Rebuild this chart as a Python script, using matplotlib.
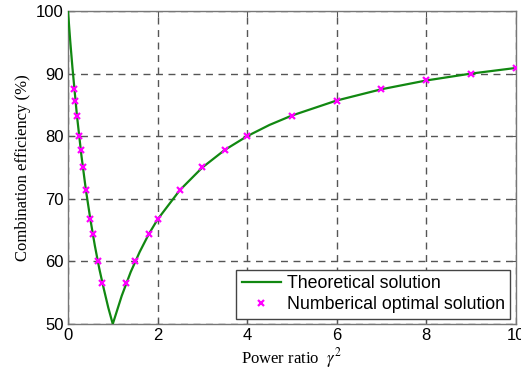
import matplotlib
matplotlib.use("Agg")
import matplotlib.pyplot as plt

# Theoretical curve
theory_x = [0, 0.05, 0.1, 0.2, 0.3, 0.4, 0.5, 0.6, 0.7, 0.8, 0.9, 1.0,
            1.2, 1.4, 1.6, 1.8, 2.0, 2.5, 3.0, 3.5, 4.0, 4.5, 5.0, 6.0,
            7.0, 8.0, 9.0, 10.0]
theory_y = [100, 95.2, 90.9, 83.3, 76.9, 71.4, 66.7, 62.5, 58.8, 55.6, 52.6, 50.0,
            54.5, 58.3, 61.5, 64.3, 66.7, 71.4, 75.0, 77.8, 80.0, 81.8, 83.3, 85.7,
            87.5, 88.9, 90.0, 90.9]

# Numerical optimal solution markers
num_x = [0.143, 0.167, 0.2, 0.25, 0.286, 0.333, 0.4, 0.5, 0.556, 0.667, 0.77,
         1.3, 1.5, 1.8, 2.0, 2.5, 3.0, 3.5, 4.0, 5.0, 6.0, 7.0, 8.0, 9.0, 10.0]
num_y = [87.5, 85.7, 83.3, 80.0, 77.8, 75.0, 71.4, 66.7, 64.3, 60.0, 56.5,
         56.5, 60.0, 64.3, 66.7, 71.4, 75.0, 77.8, 80.0, 83.3, 85.7, 87.5, 88.9, 90.0, 90.9]

xticks = [0, 2, 4, 6, 8, 10]
yticks = [50, 60, 70, 80, 90, 100]

plt.rcParams['font.family'] = ['Liberation Sans', 'DejaVu Sans']
plt.rcParams['mathtext.fontset'] = 'stix'

fig = plt.figure(figsize=(5.21, 3.78), dpi=100)
ax = fig.add_axes([0.1305, 0.1429, 0.8595, 0.828])

ax.plot(theory_x, theory_y, color='#118811', lw=1.6, label='Theoretical solution', zorder=3)
ax.plot(num_x, num_y, linestyle='none', marker='x', color='#ff00ff', ms=5, mew=1.6,
        label='Numberical optimal solution', zorder=4)

ax.set_xlim(0, 10)
ax.set_ylim(50, 100)
ax.set_xticks(xticks)
ax.set_yticks(yticks)
ax.tick_params(direction='in', top=True, right=True, labelsize=12, length=4,
               color='#555555', pad=3)
for s in ax.spines.values():
    s.set_color('#777777')
    s.set_linewidth(1.0)

ax.grid(True, linestyle=(0, (5, 4)), color='#555555', lw=1.0)

ax.set_xlabel(r'Power ratio  $\gamma^2$', family=['Liberation Serif', 'DejaVu Serif'],
              fontsize=12, labelpad=2)
ax.set_ylabel('Combination efficiency (%)', family=['Liberation Serif', 'DejaVu Serif'],
              fontsize=12, labelpad=4)

leg = ax.legend(loc='lower right', fontsize=12.8, frameon=True, fancybox=False,
                borderaxespad=0.3, handlelength=2.2, handletextpad=0.35,
                labelspacing=0.25, borderpad=0.3, markerscale=0.75)
leg.get_frame().set_edgecolor('#444444')
leg.get_frame().set_linewidth(1.0)
leg.get_frame().set_alpha(1)

fig.savefig('out.png', dpi=100)
